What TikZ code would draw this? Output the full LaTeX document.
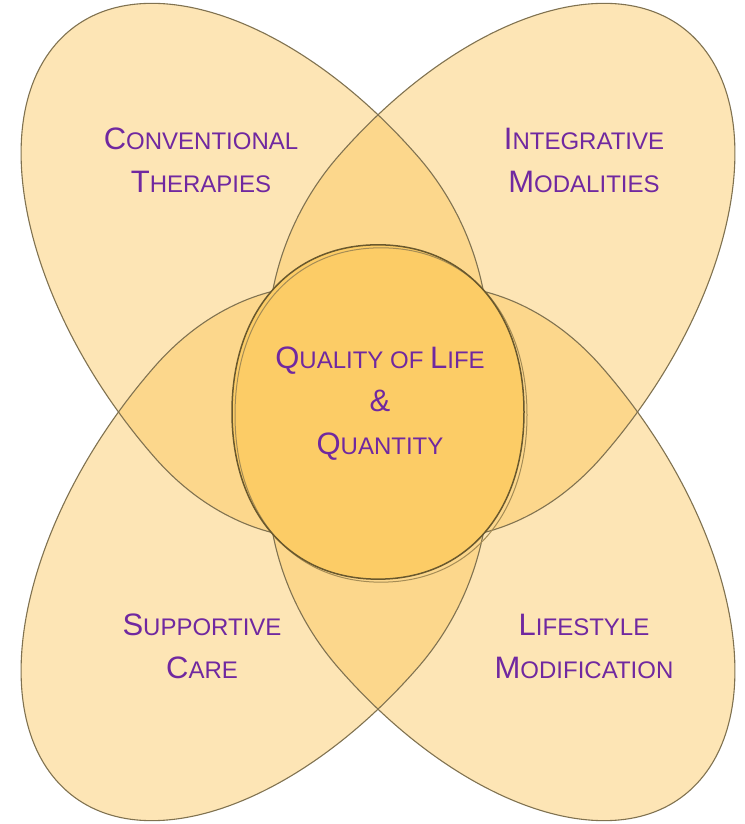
\documentclass[tikz,border=0pt]{standalone}
\usepackage{fontspec}
\setmainfont{Liberation Sans}
\definecolor{petalfill}{RGB}{251,199,92}
\definecolor{petalline}{RGB}{128,114,80}
\definecolor{corefill}{RGB}{252,204,102}
\definecolor{coreline}{RGB}{105,88,45}
\definecolor{corelinelight}{RGB}{165,140,85}
\definecolor{labelpurple}{RGB}{112,40,160}

% capital and reduced capital for the small-caps labels
\newcommand\lblA[1]{{\fontsize{31pt}{43pt}\selectfont #1}}
\newcommand\lblB[1]{{\fontsize{24pt}{43pt}\selectfont #1}}

% one petal: egg shape, widest at the origin, outer tip on +x
\def\petalshape{(325,0) .. controls (325,103) and (180,186) .. (0,186)
  .. controls (-120,186) and (-217,103) .. (-217,0)
  .. controls (-217,-103) and (-120,-186) .. (0,-186)
  .. controls (180,-186) and (325,-103) .. (325,0) -- cycle}

% nearly round disc in the middle
\def\coreshape{(146,0) .. controls (146,88) and (88,146) .. (0,146)
  .. controls (-88,146) and (-146,88) .. (-146,0)
  .. controls (-146,-88) and (-88,-146) .. (0,-146)
  .. controls (88,-146) and (146,-88) .. (146,0) -- cycle}

\tikzset{
  petalarea/.style={fill=petalfill, fill opacity=0.45},
  petaledge/.style={draw=petalline, line width=1.1pt},
  lbl/.style={align=center, inner sep=0pt, text=labelpurple,
    font=\fontsize{31pt}{43pt}\selectfont},
}

\begin{document}
\begin{tikzpicture}[x=1pt, y=1pt]
  \useasboundingbox (0,0) rectangle (744,824);
  \fill[white] (0,0) rectangle (744,824);

  % petal fills
  \foreach \ang in {135,45,225,315} {
    \begin{scope}[shift={(378,412)}, yscale=1.145, rotate=\ang, shift={(130,0)}]
      \path[petalarea] \petalshape;
    \end{scope}
  }
  % petal outlines
  \foreach \ang in {135,45,225,315} {
    \begin{scope}[shift={(378,412)}, yscale=1.145, rotate=\ang, shift={(130,0)}]
      \path[petaledge] \petalshape;
    \end{scope}
  }

  % central disc with its two outlines
  \begin{scope}[shift={(378,412)}, yscale=1.145]
    \path[fill=corefill] \coreshape;
  \end{scope}
  \begin{scope}[shift={(381,409)}, yscale=1.145]
    \path[draw=corelinelight, line width=1pt] \coreshape;
  \end{scope}
  \begin{scope}[shift={(378,412)}, yscale=1.145]
    \path[draw=coreline, line width=1.5pt] \coreshape;
  \end{scope}

  % labels
  \node[lbl] (conv) at (201,664) {\lblA{C}\lblB{ONVENTIONAL}\\\lblA{T}\lblB{HERAPIES}};
  \node[lbl] (integ) at (584,664) {\lblA{I}\lblB{NTEGRATIVE}\\\lblA{M}\lblB{ODALITIES}};
  \node[lbl] (qol) at (380,420) {\lblA{Q}\lblB{UALITY OF }\lblA{L}\lblB{IFE}\\\lblA{\&}\\\lblA{Q}\lblB{UANTITY}};
  \node[lbl] (supp) at (202,178) {\lblA{S}\lblB{UPPORTIVE}\\\lblA{C}\lblB{ARE}};
  \node[lbl] (life) at (584,178) {\lblA{L}\lblB{IFESTYLE}\\\lblA{M}\lblB{ODIFICATION}};
\end{tikzpicture}
\end{document}
